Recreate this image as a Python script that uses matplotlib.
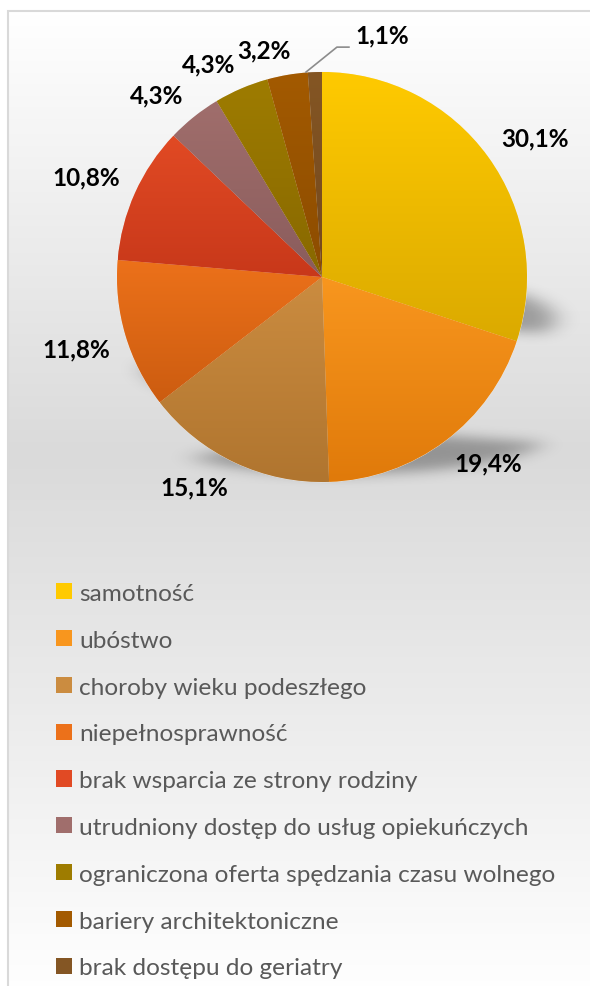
"""
Wykres kołowy: problemy osób starszych
"""
import numpy as np
import matplotlib
matplotlib.use("Agg")
import matplotlib.pyplot as plt
from matplotlib.colors import LinearSegmentedColormap
from matplotlib.patches import Patch, Rectangle

# Dane
kategorie = [
    "samotność",
    "ubóstwo",
    "choroby wieku podeszłego",
    "niepełnosprawność",
    "brak wsparcia ze strony rodziny",
    "utrudniony dostęp do usług opiekuńczych",
    "ograniczona oferta spędzania czasu wolnego",
    "bariery architektoniczne",
    "brak dostępu do geriatry",
]
procenty = [30.1, 19.4, 15.1, 11.8, 10.8, 4.3, 4.3, 3.2, 1.1]

# Kolory (góra / dół gradientu)
kolor_gora = ["#FFCA00", "#F8961E", "#CB8C40", "#EC711A", "#E14A24",
              "#A06E6C", "#9E7C00", "#A35A00", "#845624"]
kolor_dol = ["#DBAA00", "#E07A0A", "#B0752F", "#CC5C10", "#C8381A",
             "#8A5C5C", "#886800", "#8C4C00", "#74481C"]

W, H = 590, 987
fig = plt.figure(figsize=(W / 100, H / 100), dpi=100)
ax = fig.add_axes([0, 0, 1, 1])
ax.set_xlim(0, W)
ax.set_ylim(0, H)

# Tło z gradientem i ramka
tlo = LinearSegmentedColormap.from_list("tlo", [(0, "#FFFFFF"), (0.45, "#DADADA"), (1, "#FFFFFF")])
ax.imshow(np.linspace(0, 1, 256).reshape(-1, 1), cmap=tlo, extent=[8, W + 10, -10, H - 12],
          aspect="auto", zorder=0)
ax.add_patch(Rectangle((8, -10), W, H - 2, fill=False, edgecolor="#D9D9D9", lw=1.5, zorder=1))

cx, cy, R = 322, H - 278, 205
wedges, _ = ax.pie(procenty, colors=kolor_gora, startangle=90, counterclock=False,
                   center=(cx, cy), radius=R, frame=True,
                   wedgeprops=dict(edgecolor="#F4F4F4", linewidth=0.4))

# Cień (perspektywiczny, rozmyty)
xs = np.arange(0, W)
ys = np.arange(H - 600, H)
gx, gy = np.meshgrid(xs + 0.5, ys + 0.5)
maska = np.zeros(gx.shape)
sx, sy, skala = 28, 8, 0.22
for w in wedges:
    w.set_zorder(3)
    p = w.get_path()
    ybot = p.vertices[:, 1].min()
    px = gx - sx
    py = ybot + (gy - ybot - sy) / skala
    inside = p.contains_points(np.column_stack([px.ravel(), py.ravel()])).reshape(gx.shape)
    maska = np.maximum(maska, inside.astype(float))


def jadro(sig):
    k = np.exp(-0.5 * (np.arange(-3 * sig, 3 * sig + 1) / sig) ** 2)
    return k / k.sum()


kx, ky = jadro(12), jadro(6)
maska = np.apply_along_axis(lambda r: np.convolve(r, kx, mode="same"), 1, maska)
maska = np.apply_along_axis(lambda c: np.convolve(c, ky, mode="same"), 0, maska)
cien = np.zeros(maska.shape + (4,))
cien[..., 3] = 0.32 * maska
ax.imshow(cien, extent=[0, W, H - 600, H], origin="lower", aspect="auto", zorder=2)

# Gradient w wycinkach
for w, c1, c2 in zip(wedges, kolor_gora, kolor_dol):
    ext = w.get_path().get_extents()
    cm = LinearSegmentedColormap.from_list("g", [c2, c1])
    im = ax.imshow(np.linspace(0, 1, 128).reshape(-1, 1), cmap=cm, origin="lower",
                   extent=[ext.x0, ext.x1, ext.y0, ext.y1], aspect="auto", zorder=3.5)
    im.set_clip_path(w)
ax.set_xlim(0, W)
ax.set_ylim(0, H)

# Etykiety z procentami
fkw = dict(fontsize=17.5, fontweight="bold", color="#000000", family="Lato", zorder=5)
etykiety = []
for i, (w, v) in enumerate(zip(wedges, procenty)):
    kat = np.deg2rad((w.theta1 + w.theta2) / 2)
    tekst = f"{v:.1f}%".replace(".", ",")
    if i == len(procenty) - 1:
        x0, y0 = cx + R * np.cos(kat), cy + R * np.sin(kat)
        ax.plot([x0 - 9, x0 + 22, x0 + 34], [y0, y0 + 25, y0 + 25], color="#8C8C8C", lw=1.2, zorder=5)
        ax.text(x0 + 40, y0 + 37, tekst, ha="left", va="center", **fkw)
        continue
    c, s = np.cos(kat), np.sin(kat)
    t = ax.text(cx + 1.08 * R * c, cy + 1.08 * R * s, tekst, ha="center", va="center", **fkw)
    etykiety.append((t, np.clip(4.5 * c, -1, 1), np.clip(4.5 * s, -1, 1)))

fig.canvas.draw()
rend = fig.canvas.get_renderer()
for t, fx, fy in etykiety:
    bb = t.get_window_extent(rend)
    x, y = t.get_position()
    t.set_position((x + fx * bb.width / 2, y + fy * bb.height / 2 * 0.8))

# Legenda
uchwyty = [Patch(facecolor=k1, edgecolor="none") for k1 in kolor_gora]
leg = ax.legend(uchwyty, kategorie, loc="upper left", bbox_to_anchor=(56 / W, 1 - 584 / H),
                frameon=False, prop=dict(family="Lato", size=17.6), labelcolor="#595959",
                labelspacing=1.055, handlelength=0.64, handleheight=0.64, handletextpad=0.3,
                borderpad=0, borderaxespad=0)

ax.set_aspect("auto")
ax.axis("off")
fig.savefig("out.png", dpi=100)
